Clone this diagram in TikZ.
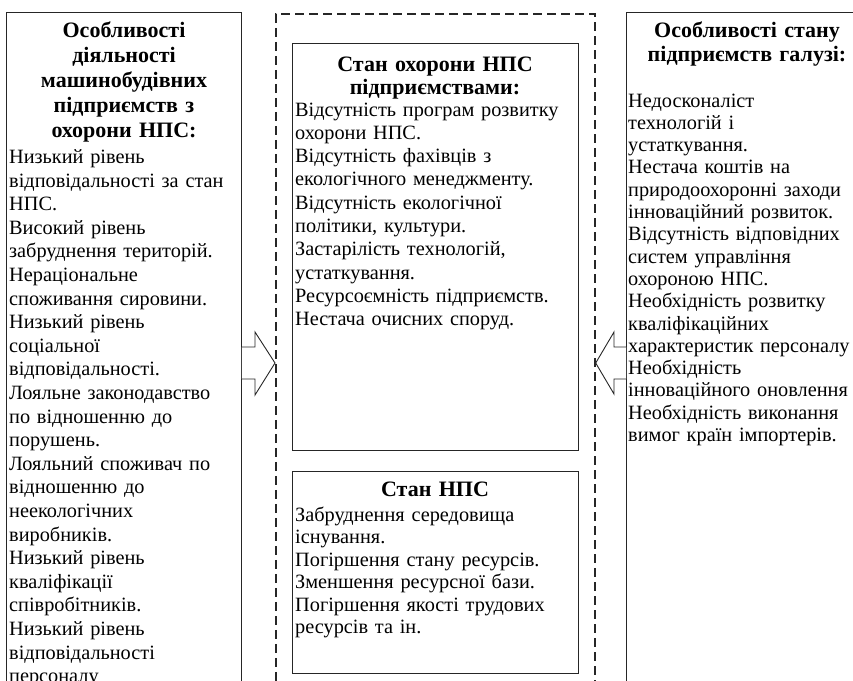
\documentclass[tikz,border=0pt]{standalone}
\usepackage{fontspec}
\setmainfont{Liberation Serif}
\begin{document}
\begin{tikzpicture}[x=1pt,y=1pt,
  box/.style={draw=black!85, line width=0.9pt, anchor=north west, inner sep=0pt},
  dbox/.style={draw=black!85, line width=1.7pt, dash pattern=on 9pt off 5pt, anchor=north west, inner sep=0pt},
  body/.style={anchor=base west, inner sep=0pt, align=left, text width=#1, font=\fontsize{20.3}{23.5}\selectfont},
  head/.style={anchor=base, inner sep=0pt, align=center, text width=#1, font=\fontsize{22}{25}\selectfont\bfseries},
  arr/.style={draw=black!85, line width=0.9pt, fill=white, line join=miter}]
\useasboundingbox (0,0) rectangle (853,-680);
\clip (0,0) rectangle (853,-680);
% boxes
\node[box, minimum width=235pt, minimum height=720pt] (L) at (6,-12) {};
\node[dbox, minimum width=319pt, minimum height=720pt] (D) at (275,-13) {};
\node[box, minimum width=286pt, minimum height=407pt] (T) at (292,-43) {};
\node[box, minimum width=286pt, minimum height=202pt] (B) at (292,-471) {};
\node[box, minimum width=245pt, minimum height=720pt] (R) at (626,-12) {};
% arrows
\draw[arr] (L.east |- 0,-347) -- (255,-347) -- (255,-332) -- (D.west |- 0,-363)
  -- (255,-395) -- (255,-379) -- (L.east |- 0,-379);
\draw[arr] (R.west |- 0,-347) -- (614,-347) -- (614,-332) -- (D.east |- 0,-363)
  -- (614,-394) -- (614,-379) -- (R.west |- 0,-379);
% left texts
\node[head=234pt] (Lh) at (124,-37.5) {Особливості\\діяльності\\машинобудівних\\підприємств з\\охорони НПС:};
\node[body=232pt, font=\fontsize{20.3}{23.6}\selectfont] (Lb) at (9,-163.5) {Низький рівень\\
відповідальності за стан\\
НПС.\\
Високий рівень\\
забруднення територій.\\
Нераціональне\\
споживання сировини.\\
Низький рівень\\
соціальної\\
відповідальності.\\
Лояльне законодавство\\
по відношенню до\\
порушень.\\
Лояльний споживач по\\
відношенню до\\
неекологічних\\
виробників.\\
Низький рівень\\
кваліфікації\\
співробітників.\\
Низький рівень\\
відповідальності\\
персоналу};
% center top
\node[head=284pt, font=\fontsize{22}{23}\selectfont\bfseries] (Th) at (435,-71.5) {Стан охорони НПС\\підприємствами:};
\node[body=283pt, font=\fontsize{20.3}{23.3}\selectfont] (Tb) at (295,-116) {Відсутність програм розвитку\\
охорони НПС.\\
Відсутність фахівців з\\
екологічного менеджменту.\\
Відсутність екологічної\\
політики, культури.\\
Застарілість технологій,\\
устаткування.\\
Ресурсоємність підприємств.\\
Нестача очисних споруд.};
% center bottom
\node[head=284pt] (Bh) at (435,-496.5) {Стан НПС};
\node[body=283pt, font=\fontsize{20.3}{22.5}\selectfont] (Bb) at (295,-521) {Забруднення середовища\\
існування.\\
Погіршення стану ресурсів.\\
Зменшення ресурсної бази.\\
Погіршення якості трудових\\
ресурсів та ін.};
% right
\node[head=244pt, font=\fontsize{22}{24.5}\selectfont\bfseries] (Rh) at (747,-37.5) {Особливості стану\\підприємств галузі:};
\node[body=240pt, font=\fontsize{20.3}{22.3}\selectfont] (Rb) at (628,-107) {Недосконаліст\\
технологій і\\
устаткування.\\
Нестача коштів на\\
природоохоронні заходи\\
інноваційний розвиток.\\
Відсутність відповідних\\
систем управління\\
охороною НПС.\\
Необхідність розвитку\\
кваліфікаційних\\
характеристик персоналу\\
Необхідність\\
інноваційного оновлення\\
Необхідність виконання\\
вимог країн імпортерів.};
\end{tikzpicture}
\end{document}
